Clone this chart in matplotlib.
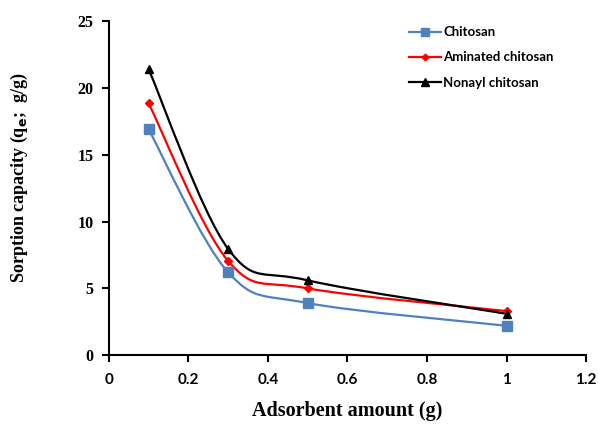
import matplotlib
matplotlib.use('Agg')
import matplotlib.pyplot as plt
from matplotlib.path import Path
from matplotlib.patches import PathPatch
from matplotlib.lines import Line2D

# data
amount = [0.1, 0.3, 0.5, 1.0]
chitosan = [16.9, 6.2, 3.9, 2.2]
aminated = [18.85, 7.05, 5.0, 3.3]
nonayl = [21.4, 7.95, 5.6, 3.1]

series = [
    ('Chitosan', chitosan, '#4F81BD', 's', 6.5),
    ('Aminated chitosan', aminated, '#FF0000', 'D', 4.0),
    ('Nonayl chitosan', nonayl, '#000000', '^', 6.0),
]


def smooth_path(xs, ys):
    """Excel-like smoothed line: Catmull-Rom converted to cubic Bezier segments"""
    pts = list(zip(xs, ys))
    verts = [pts[0]]
    codes = [Path.MOVETO]
    n = len(pts)
    for i in range(n - 1):
        p0 = pts[max(i - 1, 0)]
        p1 = pts[i]
        p2 = pts[i + 1]
        p3 = pts[min(i + 2, n - 1)]
        c1 = (p1[0] + (p2[0] - p0[0]) / 6, p1[1] + (p2[1] - p0[1]) / 6)
        c2 = (p2[0] - (p3[0] - p1[0]) / 6, p2[1] - (p3[1] - p1[1]) / 6)
        verts += [c1, c2, p2]
        codes += [Path.CURVE4] * 3
    return Path(verts, codes)


fig = plt.figure(figsize=(5.98, 4.30), dpi=100)
ax = fig.add_axes([0.182, 0.174, 0.798, 0.777])

handles = []
for name, vals, col, mk, ms in series:
    ax.add_patch(PathPatch(smooth_path(amount, vals), fill=False, ec=col, lw=1.6, zorder=2))
    ax.plot(amount, vals, ls='none', marker=mk, ms=ms, color=col, zorder=3)
    handles.append(Line2D([], [], color=col, lw=1.6, marker=mk, ms=ms * 0.85, label=name))

ax.set_xlim(0, 1.2)
ax.set_ylim(0, 25)
ax.set_xticks([0, 0.2, 0.4, 0.6, 0.8, 1.0, 1.2])
ax.set_xticklabels(['0', '0.2', '0.4', '0.6', '0.8', '1', '1.2'])
ax.set_yticks([0, 5, 10, 15, 20, 25])

ax.spines['top'].set_visible(False)
ax.spines['right'].set_visible(False)
for s in ['left', 'bottom']:
    ax.spines[s].set_linewidth(1.5)
ax.tick_params(direction='out', length=5, width=1.5)
ax.tick_params(axis='x', pad=8)
ax.tick_params(axis='y', pad=6)
for lab in ax.get_xticklabels():
    lab.set_fontfamily('Lato')
    lab.set_fontweight('bold')
    lab.set_fontsize(11)
for lab in ax.get_yticklabels():
    lab.set_fontfamily('Liberation Serif')
    lab.set_fontweight('bold')
    lab.set_fontsize(11.5)

ax.set_xlabel('Adsorbent amount (g)', family='Liberation Serif', weight='bold', size=14.5, labelpad=10)
ax.set_ylabel('Sorption capacity (q$_\\mathbf{e}$;  g/g)', family='Liberation Serif', weight='bold',
              size=13, labelpad=34)
ax.yaxis.set_label_coords(-0.165, 0.53)

ax.legend(handles=handles, loc='upper left', bbox_to_anchor=(0.605, 1.02), frameon=False,
          prop={'family': 'Lato', 'weight': 'bold', 'size': 9.5},
          handlelength=2.4, handletextpad=0.15, labelspacing=1.0)

fig.savefig('out.png', dpi=100)
